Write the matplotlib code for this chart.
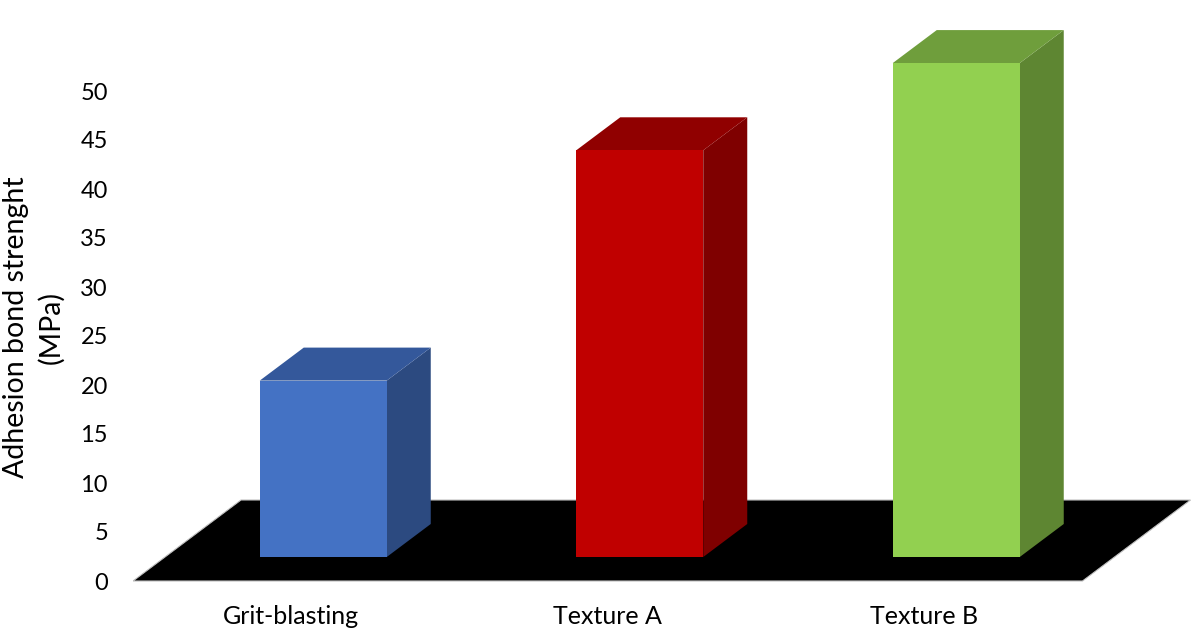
import matplotlib
matplotlib.use("Agg")
import matplotlib.pyplot as plt
from matplotlib.patches import Polygon

plt.rcParams["font.family"] = ["Lato", "DejaVu Sans"]

categories = ["Grit-blasting", "Texture A", "Texture B"]
strength = [18.0, 41.5, 50.4]
yticks = [0, 5, 10, 15, 20, 25, 30, 35, 40, 45, 50]
ylabel = "Adhesion bond strenght\n(MPa)"

front_colors = ["#4472C4", "#C00000", "#92D050"]
top_colors = ["#34589B", "#900000", "#6F9E3C"]
side_colors = ["#2C4A80", "#7F0000", "#5E8632"]

W, H, DPI = 1200, 633, 100
fig = plt.figure(figsize=(W / DPI, H / DPI), dpi=DPI)
ax = fig.add_axes([133 / W, 38 / H, (W - 133) / W, (H - 38) / H])

# data scaling: 316.5 px per category, 9.8 px per MPa
px_x, px_y = 316.5, 9.8
ax.set_xlim(-0.5, -0.5 + (W - 133) / px_x)
ax.set_ylim(-(595 - 581) / px_y, 581 / px_y)

# oblique depth vector of the floor (front edge -> back edge)
DX, DY = 108 / px_x, 81 / px_y
z0, z1 = 24 / 81, 57 / 81
bw = 127 / px_x

xs = list(range(len(categories)))

# floor
floor = Polygon([(-0.5, 0), (len(xs) - 0.5, 0),
                 (len(xs) - 0.5 + DX, DY), (-0.5 + DX, DY)],
                closed=True, facecolor="black", edgecolor="#BFBFBF",
                linewidth=0.8, zorder=1)
ax.add_patch(floor)

bdx, bdy = (z1 - z0) * DX, (z1 - z0) * DY
for i, v in enumerate(strength):
    xl = xs[i] - bw / 2 + z0 * DX
    xr = xl + bw
    yb = z0 * DY
    yt = yb + v
    # side face
    ax.add_patch(Polygon([(xr, yb), (xr + bdx, yb + bdy), (xr + bdx, yt + bdy), (xr, yt)],
                         closed=True, facecolor=side_colors[i], edgecolor="none", zorder=2))
    # top face
    ax.add_patch(Polygon([(xl, yt), (xr, yt), (xr + bdx, yt + bdy), (xl + bdx, yt + bdy)],
                         closed=True, facecolor=top_colors[i], edgecolor="none", zorder=2))
    # front face
    ax.bar(xs[i] + z0 * DX, v, width=bw, bottom=yb, color=front_colors[i],
           edgecolor="none", zorder=3)

for s in ax.spines.values():
    s.set_visible(False)
ax.set_yticks(yticks)
ax.set_yticklabels([str(t) for t in yticks], fontsize=17, color="black")
ax.set_xticks(xs)
ax.set_xticklabels(categories, fontsize=18, color="black")
ax.tick_params(axis="y", length=0, pad=18)
ax.tick_params(axis="x", length=0, pad=7)
ax.patch.set_visible(False)

fig.text(34 / W, 1 - 327 / H, ylabel, rotation=90, ha="center", va="center",
         fontsize=20.5, linespacing=1.4, multialignment="center")

fig.savefig("out.png", dpi=DPI, facecolor="white")
